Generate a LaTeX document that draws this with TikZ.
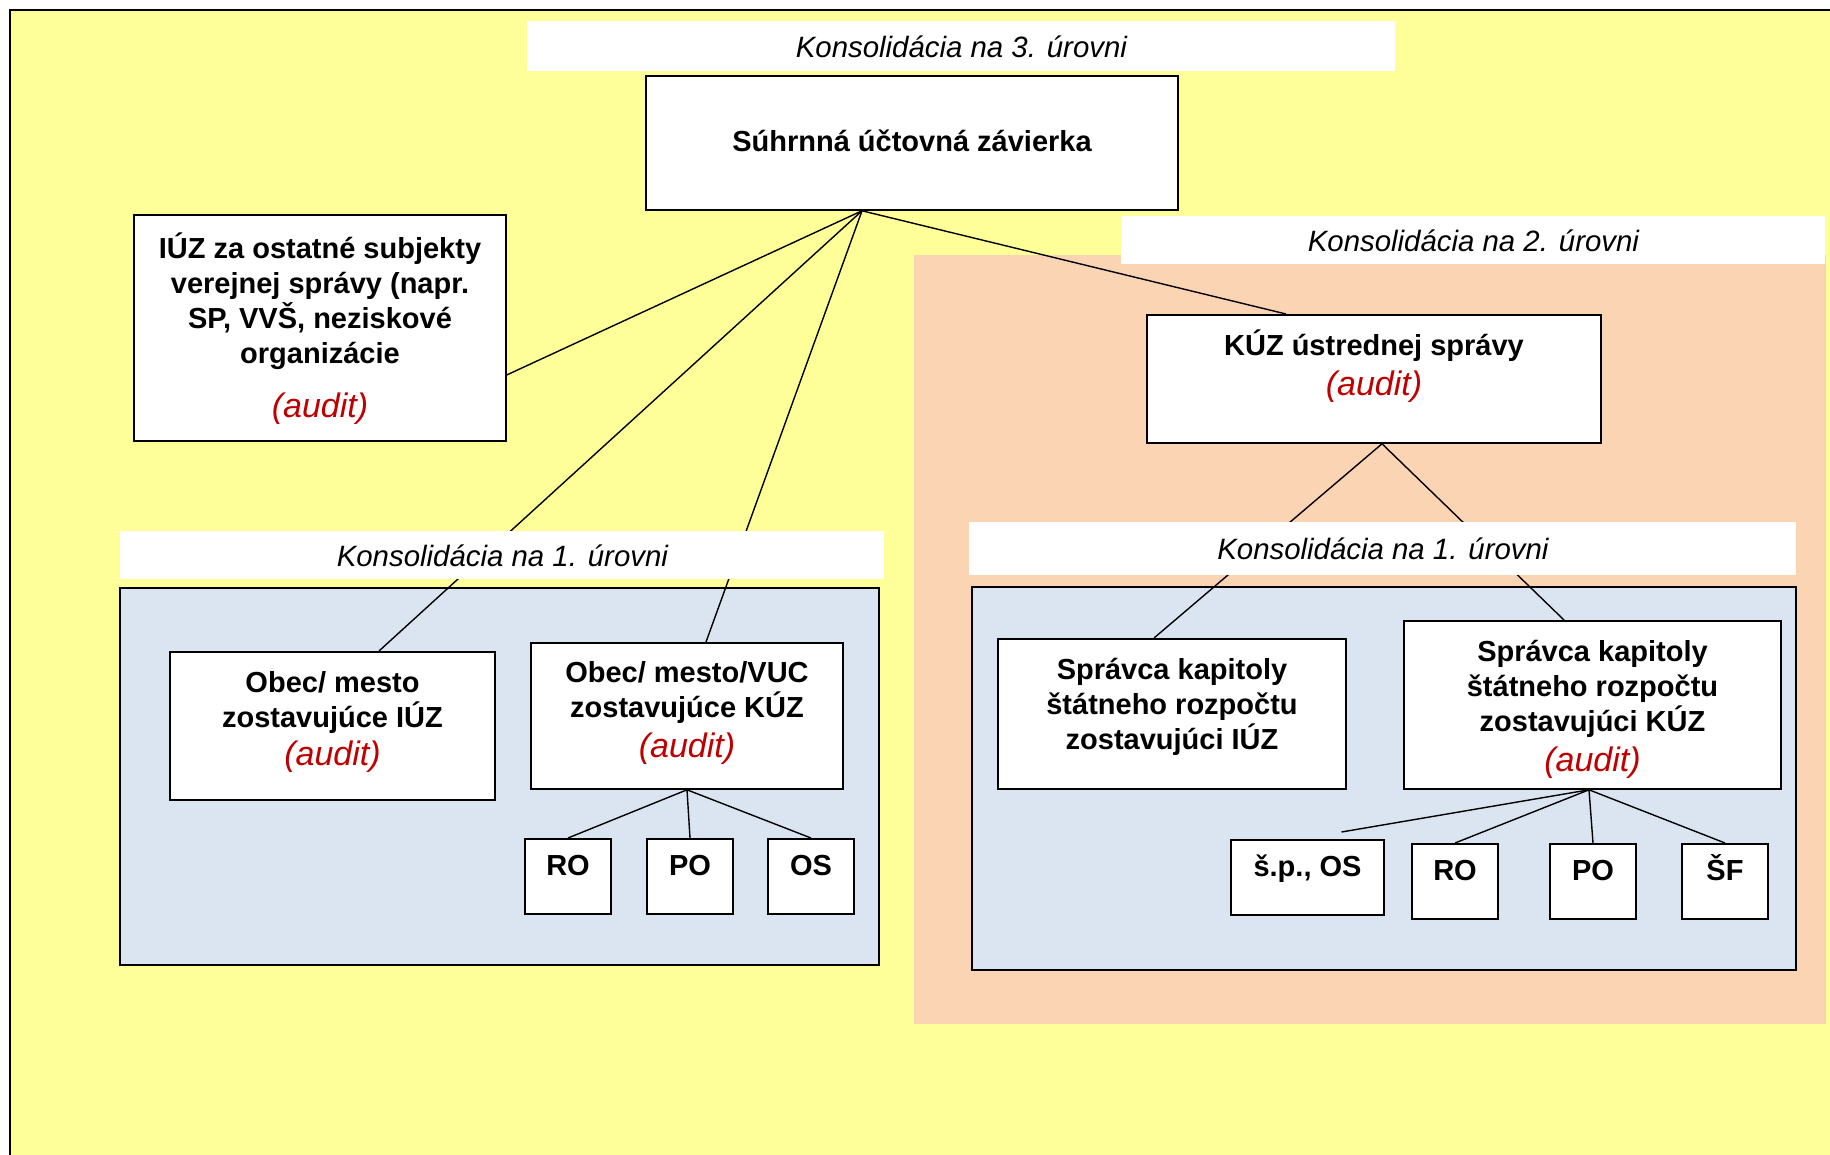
\documentclass[tikz,border=0pt]{standalone}
\usepackage{fontspec}
\setmainfont{Liberation Sans}
\definecolor{bgyellow}{RGB}{255,255,153}
\definecolor{peach}{RGB}{251,212,180}
\definecolor{paleblue}{RGB}{219,229,241}
\definecolor{audred}{RGB}{192,0,0}
\newcommand{\auditnote}{{\fontsize{17}{20}\selectfont\mdseries\itshape\color{audred}(audit)}}
\tikzstyle{unit}=[draw, fill=white, inner sep=0pt, align=center, anchor=north, line width=0.9pt, font=\fontsize{14.5}{17.5}\selectfont\bfseries]
\tikzstyle{leaf}=[unit, minimum width=43pt, text height=18.5pt, text depth=19pt]
\tikzstyle{band}=[fill=white, inner sep=0pt, anchor=north west, font=\fontsize{14.7}{18}\selectfont\itshape]
\tikzstyle{wire}=[line width=0.7pt]

\begin{document}
\begin{tikzpicture}[x=0.5pt, y=-0.5pt]
	\useasboundingbox (0,0) rectangle (1830,1155);
	\fill[white] (0,0) rectangle (1830,1155);
	\fill[bgyellow] (10,10) rectangle (1830,1155);
	\draw[line width=1pt] (10,1155) -- (10,10) -- (1830,10);
	\fill[peach] (914,255) rectangle (1826,1024);
	\filldraw[fill=paleblue, line width=0.9pt] (120,588) rectangle (879,965);
	\filldraw[fill=paleblue, line width=0.9pt] (972,587) rectangle (1796,970);

	\node[unit, minimum width=266pt, text height=38pt, text depth=29pt] (sum) at (912,75) {Súhrnná účtovná závierka};
	\node[unit, minimum width=186pt, text height=101.5pt, text depth=11.5pt] (iuz) at (320,214) {IÚZ za ostatné subjekty\\verejnej správy (napr.\\SP, VVŠ, neziskové\\organizácie\\[9.5pt]\auditnote};
	\node[unit, minimum width=227pt, text height=40.5pt, text depth=23.5pt] (kuz) at (1374,314) {KÚZ ústrednej správy\\[2.75pt]\auditnote};
	\node[unit, minimum width=162.5pt, text height=57pt, text depth=17pt] (obecI) at (332.5,651) {Obec/ mesto\\zostavujúce IÚZ\\[1.75pt]\auditnote};
	\node[unit, minimum width=156pt, text height=57.5pt, text depth=15.5pt] (obecK) at (687,642) {Obec/ mesto/VUC\\zostavujúce KÚZ\\[2.75pt]\auditnote};
	\node[unit, minimum width=174pt, text height=55.25pt, text depth=19.75pt] (spravI) at (1172,638) {Správca kapitoly\\štátneho rozpočtu\\zostavujúci IÚZ};
	\node[unit, minimum width=188.5pt, text height=75.5pt, text depth=8.5pt] (spravK) at (1592.5,620) {Správca kapitoly\\štátneho rozpočtu\\zostavujúci KÚZ\\[2.75pt]\auditnote};

	\foreach \name/\cx in {RO/568, PO/690, OS/811}
	\node[leaf] (l\name) at (\cx,838) {\name};
	\node[leaf, minimum width=76.5pt] (sp) at (1307.5,839) {š.p., OS};
	\foreach \name/\tag/\cx in {RO/ro/1455, PO/po/1593, ŠF/sf/1725}
	\node[leaf] (r\tag) at (\cx,843) {\name};

	\coordinate (apex) at ([xshift=-25pt]sum.south);
	\coordinate (kfoot) at ([xshift=4pt]kuz.south);
	\coordinate (sfoot) at ([xshift=-1.75pt]spravK.south);
	\draw[wire] (apex) -- ([yshift=-23.5pt]iuz.east);
	\foreach \dest/\dx in {obecI/23.25, obecK/9.5, kuz/-44}
	\draw[wire] (apex) -- ([xshift=\dx pt]\dest.north);
	\draw[wire] (kfoot) -- ([xshift=-9pt]spravI.north);
	\draw[wire] (kfoot) -- ([xshift=-14.25pt]spravK.north);
	\foreach \dest in {lRO, lPO, lOS}
	\draw[wire] (obecK.south) -- (\dest.north);
	\draw[wire] (sfoot) -- ([xshift=17pt, yshift=3.5pt]sp.north);
	\foreach \dest in {rro, rpo, rsf}
	\draw[wire] (sfoot) -- (\dest.north);

	\node[band, minimum width=434pt, minimum height=25pt] (lvl3) at (527,21) {Konsolidácia na 3. úrovni};
	\node[band, minimum width=352pt, minimum height=24pt] (lvl2) at (1121,216) {Konsolidácia na 2. úrovni};
	\node[band, minimum width=382pt, minimum height=24pt] (lvlL) at (120,531) {Konsolidácia na 1. úrovni};
	\node[band, minimum width=413.5pt, minimum height=26.5pt] (lvlR) at (969,522) {Konsolidácia na 1. úrovni};
\end{tikzpicture}
\end{document}
